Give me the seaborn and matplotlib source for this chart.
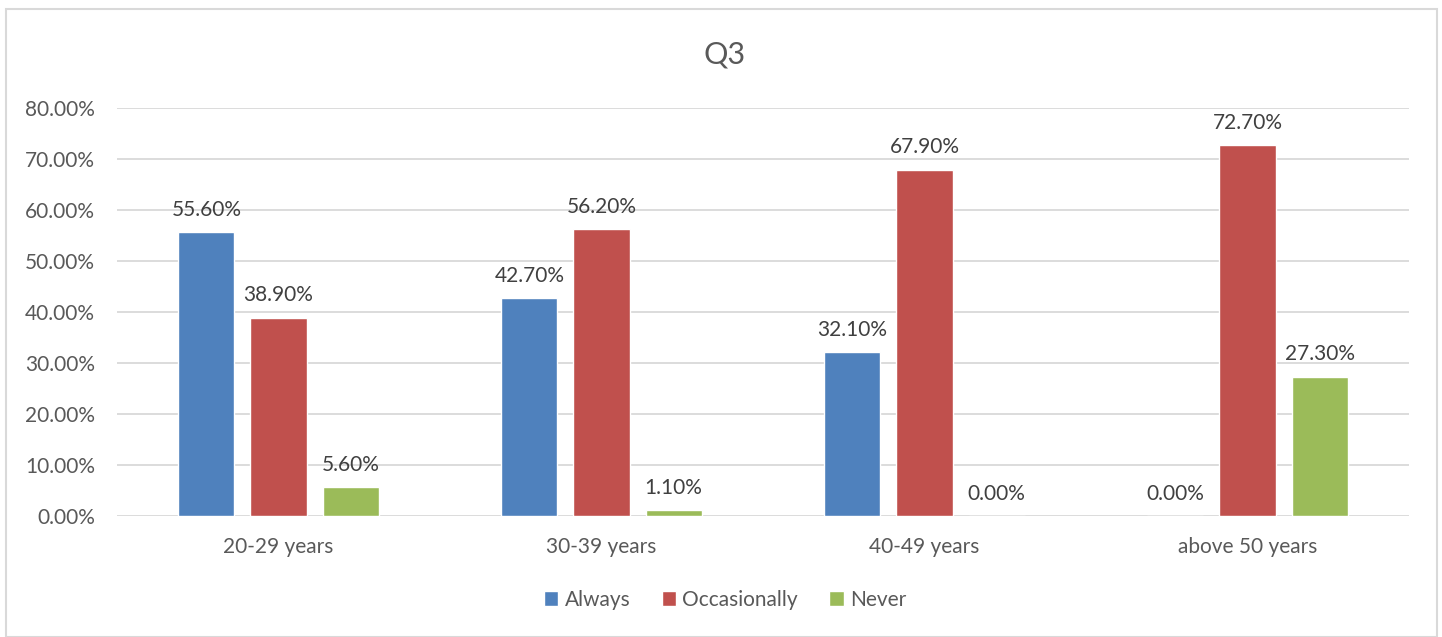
import matplotlib
matplotlib.use("Agg")
import matplotlib.pyplot as plt
import seaborn as sns
import pandas as pd
from matplotlib.patches import Rectangle
from matplotlib.ticker import FuncFormatter, MultipleLocator

# Survey results for Q3, share of respondents per age group
age_groups = ["20-29 years", "30-39 years", "40-49 years", "above 50 years"]
responses = ["Always", "Occasionally", "Never"]
always = [55.6, 42.7, 32.1, 0.0]
occasionally = [38.9, 56.2, 67.9, 72.7]
never = [5.6, 1.1, 0.0, 27.3]
palette = ["#4F81BD", "#C0504D", "#9BBB59"]

rows = []
for resp, vals in zip(responses, [always, occasionally, never]):
    for grp, v in zip(age_groups, vals):
        rows.append({"group": grp, "response": resp, "value": v / 100.0})
df = pd.DataFrame(rows)

sns.set_style("white")
plt.rcParams["font.family"] = ["Lato", "DejaVu Sans"]
text_col = "#595959"

fig = plt.figure(figsize=(14.42, 6.37), dpi=100)
ax = fig.add_axes([117 / 1442, 1 - 516 / 637, (1409 - 117) / 1442, (516 - 108) / 637])

sns.barplot(data=df, x="group", y="value", hue="response", order=age_groups,
            hue_order=responses, palette=palette, width=0.669, gap=0.222,
            saturation=1, errorbar=None, ax=ax, legend=True)

ax.set_ylim(0, 0.8)
ax.set_xlim(-0.5, len(age_groups) - 0.5)
ax.yaxis.set_major_locator(MultipleLocator(0.1))
ax.yaxis.set_major_formatter(FuncFormatter(lambda v, p: f"{v * 100:.2f}%"))
ax.grid(axis="y", color="#D9D9D9", linewidth=1.3)
ax.set_axisbelow(True)
for s in ax.spines.values():
    s.set_visible(False)
ax.tick_params(axis="both", length=0, labelsize=15, labelcolor=text_col)
ax.tick_params(axis="y", pad=16)
ax.tick_params(axis="x", pad=15)
ax.set_xlabel("")
ax.set_ylabel("")

# Value labels above each bar
for container in ax.containers:
    for bar in container:
        h = bar.get_height()
        ax.annotate(f"{h * 100:.2f}%", (bar.get_x() + bar.get_width() / 2, h),
                    xytext=(0, 9), textcoords="offset points",
                    ha="center", va="bottom", fontsize=15, color="#404040")

handles, labels = ax.get_legend_handles_labels()
ax.legend_.remove()
fig.legend(handles, labels, loc="center", bbox_to_anchor=(725 / 1442, 1 - 600 / 637),
           ncol=3, frameon=False, fontsize=15, labelcolor=text_col,
           handlelength=0.7, handleheight=0.7, handletextpad=0.3, columnspacing=1.5)

fig.text(725 / 1442, 1 - 55 / 637, "Q3", ha="center", va="center",
         fontsize=22, color=text_col)

fig.patches.append(Rectangle((6 / 1442, 0), (1437 - 6) / 1442, 1 - 9 / 637,
                             transform=fig.transFigure, fill=False,
                             edgecolor="#D9D9D9", linewidth=1.5))

fig.savefig("out.png", dpi=100)
